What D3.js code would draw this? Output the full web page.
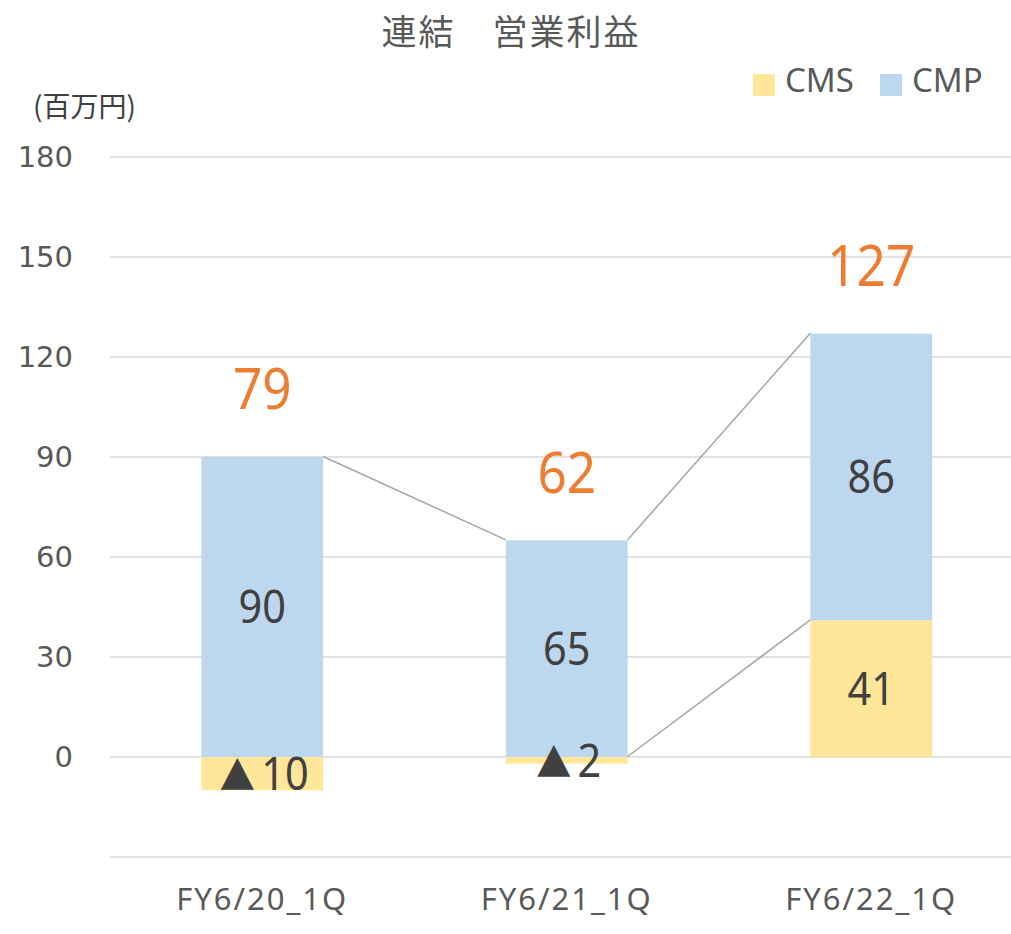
<!DOCTYPE html>
<html><head><meta charset="utf-8">
<script src="https://cdn.jsdelivr.net/npm/d3@7"></script>
<style>body{margin:0;background:#fff}</style>
</head><body>
<svg id="c" width="1011" height="934"></svg>
<script>
const categories = ["FY6/20_1Q", "FY6/21_1Q", "FY6/22_1Q"];
const cms = [-10, -2, 41];
const cmp = [90, 65, 86];
const totals = [79, 62, 127];
const yTicks = [-30, 0, 30, 60, 90, 120, 150, 180];
const seriesNames = ["CMS", "CMP"];
const colors = {CMS: "#FFE699", CMP: "#BDD7EE"};

const svg = d3.select("#c");
const x = d3.scaleBand().domain(categories).range([110, 1023.5]).paddingInner(0.6).paddingOuter(0.3);
const y = d3.scaleLinear().domain([-30, 180]).range([857, 157]);
const num = "DejaVu Sans, Verdana, sans-serif";
const noto = "Noto Sans, sans-serif";
const jp = "Noto Sans CJK JP, sans-serif";

// gridlines
svg.append("g").selectAll("line").data(yTicks).join("line")
  .attr("x1", 110).attr("x2", 1011)
  .attr("y1", d => y(d)).attr("y2", d => y(d))
  .attr("stroke", "#d9d9d9").attr("stroke-width", 1.5);

// y axis labels
const yAxis = d3.axisLeft(y).tickValues(yTicks).tickSize(0).tickPadding(0)
  .tickFormat(d => d < 0 ? "" : d);
const ya = svg.append("g").attr("transform", "translate(73,0)").call(yAxis);
ya.select(".domain").remove();
ya.selectAll("text").style("font-family", num).style("font-size", "29px").attr("fill", "#595959");

// stacked data
const rows = categories.map((c, i) => {
  const segs = [];
  let pos = 0, neg = 0;
  [["CMS", cms[i]], ["CMP", cmp[i]]].forEach(([k, v]) => {
    if (v >= 0) { segs.push({k, v, y0: pos, y1: pos + v}); pos += v; }
    else { segs.push({k, v, y0: neg + v, y1: neg}); neg += v; }
  });
  return {c, segs, top: pos};
});

const gBars = svg.append("g");
rows.forEach(r => {
  gBars.selectAll(null).data(r.segs).join("rect")
    .attr("x", x(r.c)).attr("width", x.bandwidth())
    .attr("y", d => y(d.y1)).attr("height", d => y(d.y0) - y(d.y1))
    .attr("fill", d => colors[d.k]);
});

// series lines
const bw = x.bandwidth();
const links = [
  [x(categories[0]) + bw, rows[0].top, x(categories[1]), rows[1].top],
  [x(categories[1]) + bw, rows[1].top, x(categories[2]), rows[2].top],
  [x(categories[1]) + bw, 0, x(categories[2]), cms[2]]
];
svg.append("g").selectAll("line").data(links).join("line")
  .attr("x1", d => d[0]).attr("y1", d => y(d[1]) - 0.5)
  .attr("x2", d => d[2]).attr("y2", d => y(d[3]) - 0.5)
  .attr("stroke", "#a6a6a6").attr("stroke-width", 1.5);

// segment labels
rows.forEach(r => {
  const t = svg.append("g").selectAll("g").data(r.segs).join("g")
    .attr("transform", d => `translate(${x(r.c) + bw / 2 + (d.v < 0 ? 2 : 0)},${y((d.y0 + d.y1) / 2)}) scale(0.9,1)`)
    .append("text")
    .attr("dy", "0.357em")
    .attr("text-anchor", "middle")
    .style("font-family", noto).style("font-size", "46px").attr("fill", "#404040");
  t.filter(d => d.v < 0).append("tspan")
    .style("font-family", jp).style("font-size", "39px").text("▲");
  t.append("tspan").attr("dx", d => d.v < 0 ? 7 : 0).text(d => Math.abs(d.v));
});

// totals
svg.append("g").selectAll("g").data(rows).join("g")
  .attr("transform", d => `translate(${x(d.c) + bw / 2},${y(d.top) - 68}) scale(0.9,1)`)
  .append("text")
  .attr("dy", "0.357em")
  .attr("text-anchor", "middle")
  .style("font-family", noto).style("font-size", "57px").attr("fill", "#ED7D31")
  .text((d, i) => totals[i]);

// x axis labels
const xAxis = d3.axisBottom(x).tickSize(0).tickPadding(0);
const xa = svg.append("g").attr("transform", "translate(0,888)").call(xAxis);
xa.select(".domain").remove();
xa.selectAll("text").style("font-family", noto).style("font-size", "31px")
  .style("letter-spacing", "2px").attr("fill", "#595959");

// title
svg.append("text").attr("x", 511).attr("y", 45).attr("text-anchor", "middle")
  .style("font-family", jp).style("font-size", "35px").style("letter-spacing", "2px").attr("fill", "#595959")
  .text("連結　営業利益");

// unit
svg.append("text").attr("x", 33).attr("y", 117)
  .style("font-family", jp).style("font-size", "28px").attr("fill", "#404040")
  .text("(百万円)");

// legend
const lx = [753, 880];
const lg = svg.append("g").selectAll("g").data(seriesNames).join("g")
  .attr("transform", (d, i) => `translate(${lx[i]},74)`);
lg.append("rect").attr("width", 22).attr("height", 22).attr("fill", d => colors[d]);
lg.append("text").attr("x", 32).attr("y", 6).attr("dy", "0.357em")
  .style("font-family", noto).style("font-size", "33px").attr("fill", "#595959")
  .text(d => d);
</script>
</body></html>
